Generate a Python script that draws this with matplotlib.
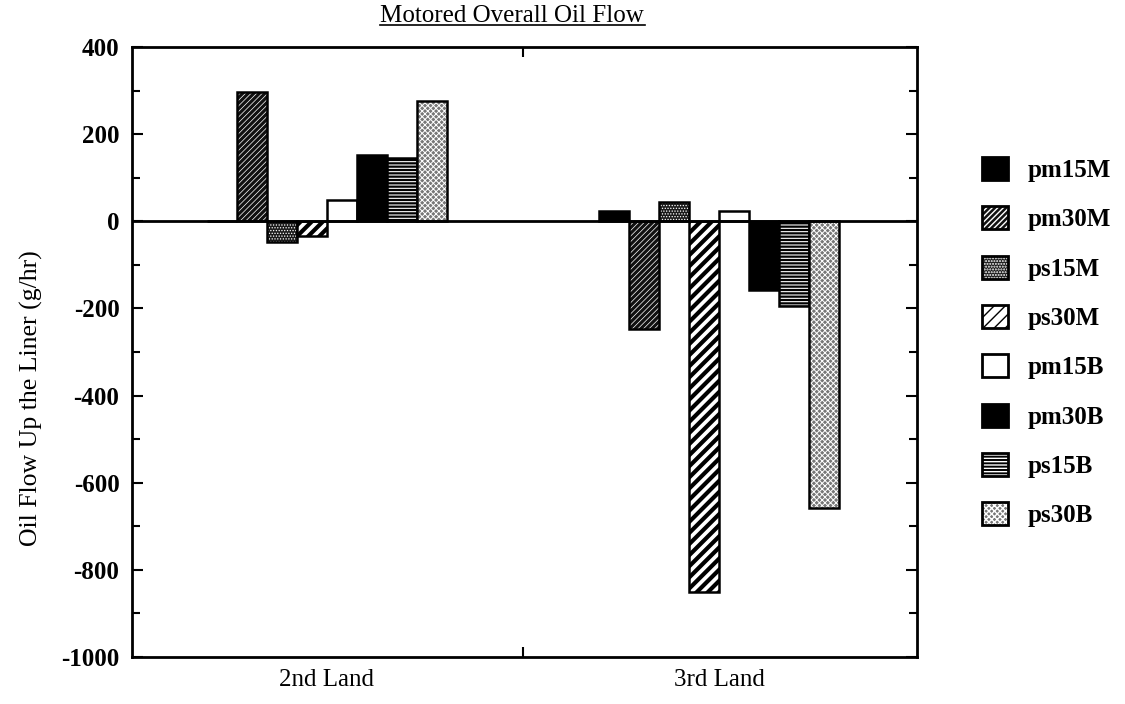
import matplotlib
matplotlib.use('Agg')
import matplotlib.pyplot as plt
import numpy as np
from matplotlib.lines import Line2D

categories = ['2nd Land', '3rd Land']
series = ['pm15M', 'pm30M', 'ps15M', 'ps30M', 'pm15B', 'pm30B', 'ps15B', 'ps30B']
values = {
    'pm15M': [0, 23],
    'pm30M': [296, -248],
    'ps15M': [-48, 44],
    'ps30M': [-34, -850],
    'pm15B': [48, 23],
    'pm30B': [152, -158],
    'ps15B': [145, -195],
    'ps30B': [275, -658],
}
# face colour, hatch, hatch colour, hatch linewidth
styles = {
    'pm15M': ('black', None, 'black', 1.0),
    'pm30M': ('#111111', '//////', 'white', 0.5),
    'ps15M': ('#1a1a1a', '......', 'white', 0.6),
    'ps30M': ('white', '///', 'black', 3.0),
    'pm15B': ('white', None, 'black', 1.0),
    'pm30B': ('black', None, 'black', 1.0),
    'ps15B': ('black', '-----', 'white', 0.8),
    'ps30B': ('#777777', 'xxxxxx', 'white', 0.7),
}

plt.rcParams['font.family'] = ['Liberation Serif', 'DejaVu Serif']
plt.rcParams['axes.unicode_minus'] = False
fig = plt.figure(figsize=(11.25, 7.04), dpi=100, facecolor='w')
ax = fig.add_axes([132 / 1125, 47 / 704, 785 / 1125, 610 / 704])

x = np.arange(len(categories))
width = 0.0764
handles = []
for i, name in enumerate(series):
    fc, hatch, hc, hlw = styles[name]
    pos = x + (i - 3.5) * width
    with plt.rc_context({'hatch.linewidth': hlw}):
        ax.bar(pos, values[name], width, color=fc, hatch=hatch, edgecolor=hc, linewidth=0)
    ax.bar(pos, values[name], width, fill=False, edgecolor='black', linewidth=1.8)
    with plt.rc_context({'hatch.linewidth': hlw}):
        h1 = plt.Rectangle((0, 0), 1, 1, facecolor=fc, hatch=hatch, edgecolor=hc, linewidth=0)
    h2 = plt.Rectangle((0, 0), 1, 1, fill=False, edgecolor='black', linewidth=2)
    handles.append((h1, h2))

ax.axhline(0, color='black', linewidth=2)
ax.set_xlim(-0.4955, 1.504)
ax.set_ylim(-1000, 400)
ax.set_yticks(np.arange(-1000, 401, 200))
ax.set_yticks(np.arange(-900, 400, 200), minor=True)
ax.tick_params(axis='y', which='both', direction='in', right=True, width=1.5, labelsize=18, pad=9)
ax.tick_params(axis='y', which='major', length=8)
ax.tick_params(axis='y', which='minor', length=6)
for lab in ax.get_yticklabels():
    lab.set_fontweight('bold')
ax.set_xticks(x)
ax.set_xticklabels(categories, fontsize=18)
ax.set_xticks([0.5], minor=True)
ax.tick_params(axis='x', which='major', length=0, pad=9)
ax.tick_params(axis='x', which='minor', direction='in', top=True, length=7, width=1.5)
for sp in ax.spines.values():
    sp.set_linewidth(2)

ax.set_ylabel('Oil Flow Up the Liner (g/hr)', fontsize=18.5)
ax.yaxis.set_label_coords(-0.113, 0.425)

fig.text(512 / 1125, 1 - 22 / 704, 'Motored Overall Oil Flow', fontsize=18,
         ha='center', va='baseline')
fig.add_artist(Line2D([380 / 1125, 645 / 1125], [1 - 25 / 704, 1 - 25 / 704],
                      transform=fig.transFigure, color='black', linewidth=1.2))

leg = fig.legend(handles, series, loc='upper left', bbox_to_anchor=(982 / 1125, 1 - 157 / 704),
                 bbox_transform=fig.transFigure, frameon=False,
                 prop={'weight': 'bold', 'size': 18}, borderpad=0, borderaxespad=0,
                 handlelength=1.04, handleheight=1.04, labelspacing=0.97, handletextpad=0.8)

fig.savefig('out.png', dpi=100)
